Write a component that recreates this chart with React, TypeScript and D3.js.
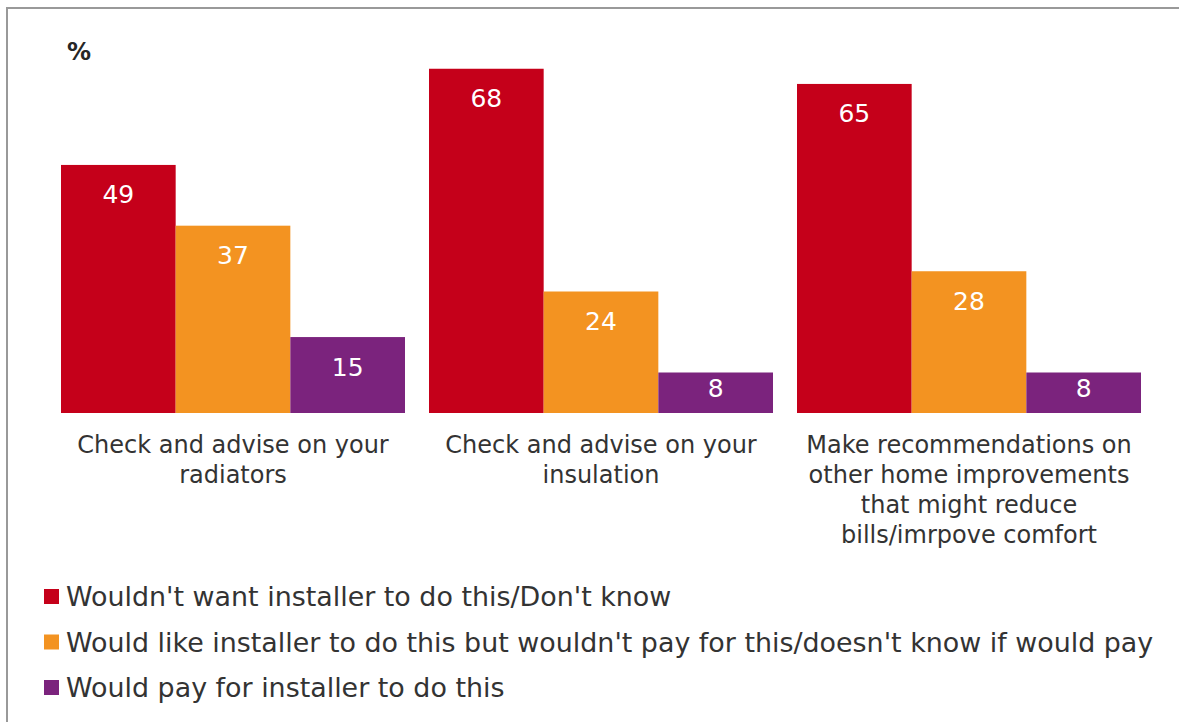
import React from "react";
import * as d3 from "d3";

const categories: string[][] = [
  ["Check and advise on your", "radiators"],
  ["Check and advise on your", "insulation"],
  ["Make recommendations on", "other home improvements", "that might reduce", "bills/imrpove comfort"],
];
const seriesNames = [
  "Wouldn't want installer to do this/Don't know",
  "Would like installer to do this but wouldn't pay for this/doesn't know if would pay",
  "Would pay for installer to do this",
];
const seriesColors = ["#C5001A", "#F39321", "#7B237D"];
const wouldntWant = [49, 68, 65];
const wouldLikeNoPay = [37, 24, 28];
const wouldPay = [15, 8, 8];

const W = 1179;
const H = 722;
const FONT = "'DejaVu Sans', Verdana, sans-serif";

export default function App() {
  const series = [wouldntWant, wouldLikeNoPay, wouldPay];
  const groupIdx = categories.map((_, i) => String(i));
  const x0 = d3
    .scaleBand<string>()
    .domain(groupIdx)
    .range([49, 1153])
    .paddingInner(24 / 368)
    .paddingOuter(12 / 368);
  const x1 = d3
    .scaleBand<string>()
    .domain(seriesNames)
    .range([0, x0.bandwidth()])
    .padding(0);
  const y = d3.scaleLinear().domain([0, 80]).range([413, 8]);

  return (
    <div style={{ position: "absolute", left: 0, top: 0 }}>
      <svg width={W} height={H} style={{ display: "block", background: "#fff" }}>
        <path d={`M7,${H + 5} V8 H${W + 5}`} fill="none" stroke="#999" strokeWidth={2} />
        <text x={67} y={60} fontFamily={FONT} fontWeight="bold" fontSize={24} fill="#262626">
          %
        </text>
        {categories.map((lines, gi) => {
          const gx = x0(String(gi))!;
          return (
            <g key={gi}>
              {series.map((vals, si) => {
                const v = vals[gi];
                const bx = gx + x1(seriesNames[si])!;
                const by = y(v);
                // label sits near the bar top, but stays inside short bars
                const ly = Math.min(by + 38.5, y(0) - 16);
                return (
                  <g key={si}>
                    <rect
                      x={bx}
                      y={by}
                      width={x1.bandwidth()}
                      height={y(0) - by}
                      fill={seriesColors[si]}
                    />
                    <text
                      x={bx + x1.bandwidth() / 2}
                      y={ly}
                      textAnchor="middle"
                      fontFamily={FONT}
                      fontSize={25}
                      fill="#fff"
                    >
                      {v}
                    </text>
                  </g>
                );
              })}
              {lines.map((ln, li) => (
                <text
                  key={li}
                  x={gx + x0.bandwidth() / 2}
                  y={453 + li * 30}
                  textAnchor="middle"
                  fontFamily={FONT}
                  fontSize={24}
                  fill="#333"
                >
                  {ln}
                </text>
              ))}
            </g>
          );
        })}
        {seriesNames.map((name, si) => (
          <g key={si} transform={`translate(44, ${606 + si * 45.5})`}>
            <rect x={0} y={-17} width={15} height={15} fill={seriesColors[si]} />
            <text x={22} y={0} fontFamily={FONT} fontSize={26.9} fill="#333">
              {name}
            </text>
          </g>
        ))}
      </svg>
    </div>
  );
}
